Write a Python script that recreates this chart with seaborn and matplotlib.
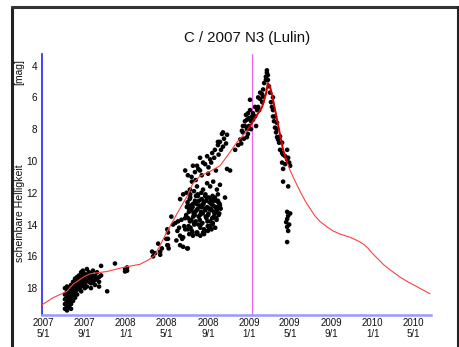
import matplotlib
matplotlib.use("Agg")
import matplotlib.pyplot as plt
from matplotlib.lines import Line2D
import seaborn as sns
import pandas as pd

# ---------------- data (days since 2007-05-01, apparent magnitude) ----------------
base_date = "2007-05-01"

# 2007 discovery season
a_days = [65,65,65,65,65, 71,71,71,71,71,71, 77,77,77,77,77, 83,83,83,83,83,83,
          89,89,89,89,89, 95,95,95,95,95, 101,101,101,101,101, 107,107,107,107,
          113,113,113,113,113, 118,118,118,118, 124,124,124,124, 130,130,130,130,
          136,136,136, 142,142,142,142, 148,148,148, 154,154,154, 160,160,
          166,166,166, 172,172, 190, 213, 243,243, 249,249]
a_mags = [18.0,18.4,18.7,19.0,19.3, 17.9,18.2,18.5,18.8,19.1,19.4, 18.1,18.3,18.6,18.9,19.2,
          17.8,18.0,18.4,18.7,19.0,19.3, 17.6,17.9,18.2,18.5,18.8, 17.4,17.7,18.0,18.3,18.6,
          17.3,17.6,17.9,18.1,18.4, 17.2,17.5,17.8,18.0, 17.0,17.3,17.6,17.9,18.2,
          16.9,17.2,17.5,17.8, 17.1,17.4,17.7,18.0, 16.8,17.2,17.5,17.9,
          17.0,17.3,17.6, 17.1,17.4,17.7,18.0, 16.9,17.3,17.6, 17.2,17.5,17.8, 17.0,17.4,
          17.3,17.6,17.9, 16.6,17.2, 18.2, 16.45, 16.8,16.95, 16.7,16.9]

# spring 2008
b_days = [323, 332, 341, 347, 352, 370, 370, 372, 326, 347, 365, 368, 406, 415, 427, 421]
b_mags = [15.7, 15.8, 15.2, 15.7, 15.5, 14.5, 15.3, 15.5, 16.0, 15.9, 14.9, 14.3, 15.3, 14.8, 15.5, 14.3]

# summer 2008 - dense core
c_days = [424,428,431,433,436,439,441,443,446,448,450,452,455,457,459,461,463,466,468,470,
          472,475,477,479,481,484,486,488,490,493,495,497,499,502,504,506,509,511,514,517,
          520,523,526,
          426,430,434,437,440,444,447,449,453,456,458,462,464,467,469,473,476,478,482,485,
          487,491,494,498,501,505,508,512,515,519,
          429,432,435,438,442,445,451,454,460,465,471,474,480,483,489,492,496,500,503,507,
          510,513,518,522,
          425,436,447,458,469,480,491,502,513,524,
          433,444,455,466,477,488,499,510,
          368,370,400,403,406,415,421,429,380,385,392,398,410,412,418,395]
c_mags = [13.4,12.6,14.1,13.0,12.3,13.7,14.4,12.9,13.3,14.0,12.5,13.8,13.1,14.5,12.2,13.5,
          12.8,14.2,13.2,12.4,13.9,12.7,14.3,13.0,12.1,13.6,12.9,14.1,13.3,12.6,13.8,12.4,
          13.1,14.0,12.8,13.5,12.3,13.2,13.7,12.9,13.4,12.7,13.0,
          12.9,13.6,12.4,14.2,13.1,12.7,13.9,13.4,12.2,14.6,13.0,12.5,13.7,14.0,12.9,13.3,
          12.6,14.4,13.5,12.3,13.8,13.0,14.1,12.7,13.6,12.5,13.3,12.9,13.1,12.6,
          14.3,13.2,13.8,12.8,14.5,13.5,13.2,12.7,14.0,13.4,12.8,14.5,13.1,12.5,13.4,14.2,
          13.0,12.6,13.9,13.2,12.9,13.6,12.5,13.3,
          12.0,12.1,11.9,12.1,12.0,12.2,12.3,12.2,12.5,12.8,
          14.6,14.7,14.5,14.7,14.6,14.4,14.3,14.2,
          15.3,14.9,13.8,14.2,14.7,15.4,13.6,15.5,13.5,14.0,13.9,14.4,13.7,14.9,14.1,15.0]

# summer 2008 - brighter upper band
d_days = [421, 429, 441, 450, 456, 465, 474, 486, 495, 501, 509, 518, 524, 533, 545,
          444, 465, 489, 504, 524, 435, 456, 474, 495, 515, 406, 415, 429, 486, 518, 539,
          533, 545, 518, 554,
          440, 452, 460, 470, 480, 490, 498, 507, 512, 520, 527, 536, 542, 530]
d_mags = [10.6, 10.9, 11.3, 10.7, 10.3, 9.8, 10.1, 9.7, 9.9, 9.5, 9.3, 9.0, 8.8, 9.1, 10.5,
          10.3, 10.6, 10.8, 11.3, 11.5, 11.8, 11.6, 11.8, 11.6, 11.8, 12.4, 12.1, 12.8, 11.4, 12.1, 12.3,
          8.2, 8.35, 8.8, 10.6,
          11.0, 11.2, 10.5, 10.9, 10.2, 10.4, 10.1, 9.8, 10.6, 9.6, 9.3, 8.6, 8.9, 8.3]

# autumn 2008
e_days = [569, 578, 584, 592, 598, 604, 607, 613, 613, 604, 592, 607, 619, 598, 589, 610, 616,
          595, 601, 610, 616, 587, 622, 604]
e_mags = [9.3, 9.0, 8.65, 8.2, 7.8, 7.4, 7.0, 6.8, 6.15, 8.0, 7.8, 8.3, 7.2, 7.5, 8.1, 7.8, 8.0,
          8.6, 7.1, 7.3, 7.5, 8.9, 7.0, 8.5]

# perihelion passage and outburst peak
f_days = [628, 634, 637, 643, 649, 652, 655, 660, 663, 663, 660, 649, 637, 628, 631, 622, 643, 652, 640,
          666, 666, 669, 672, 675, 678, 681, 681, 684, 687, 690, 693, 696, 699, 702, 708, 711, 717,
          723, 726, 729, 732, 717, 708, 711, 711, 726, 681, 687, 693, 693, 702, 708, 723]
f_mags = [7.2, 6.8, 6.6, 6.1, 5.8, 5.5, 5.1, 4.7, 4.3, 4.45, 4.9, 6.3, 6.0, 6.6, 7.8, 7.4, 5.7, 5.95, 6.8,
          4.6, 4.9, 5.3, 5.7, 6.3, 6.6, 6.8, 7.2, 7.5, 7.9, 8.2, 8.5, 8.65, 8.85, 9.3, 9.5, 9.6, 9.7,
          9.9, 9.8, 10.1, 10.3, 10.2, 10.1, 10.5, 11.3, 11.6, 6.0, 7.2, 7.6, 8.0, 8.45, 8.85, 9.3]

# faint outlier group, spring 2009
g_days = [723, 726, 723, 720, 729, 723, 726, 732, 723]
g_mags = [13.2, 13.45, 13.65, 13.85, 14.0, 14.15, 14.4, 13.3, 15.1]

# model light curve
model_days = [-3, 30, 71, 89, 120, 139, 190, 237, 287, 310, 330, 347, 367, 400, 427, 444,
              465, 495, 524, 545, 575, 590, 607, 631, 649, 660, 666, 672, 678, 693, 711,
              723, 732, 745, 761, 776, 791, 805, 820, 841, 859, 880, 909, 925, 939, 950,
              963, 975, 989, 1010, 1028, 1057, 1080, 1102, 1146]
model_mags = [19.05, 18.6, 18.2, 17.75, 17.3, 17.1, 16.95, 16.7, 16.5, 16.25, 15.95, 15.3,
              14.45, 13.2, 12.2, 11.4, 10.95, 10.65, 10.3, 9.7, 8.8, 8.45, 8.0, 7.2, 6.6,
              5.8, 5.1, 5.3, 5.8, 7.4, 9.3, 10.1, 10.6, 11.2, 11.9, 12.5, 13.0, 13.45, 13.8,
              14.15, 14.4, 14.6, 14.8, 14.95, 15.1, 15.25, 15.5, 15.8, 16.1, 16.55, 16.85,
              17.3, 17.6, 17.85, 18.35]

# fit near perihelion (heavier line)
fit_days = [607, 631, 649, 660, 666, 672, 678, 693, 711, 723]
fit_mags = [8.0, 7.2, 6.6, 5.8, 5.1, 5.3, 5.8, 7.4, 9.3, 10.1]

perihelion = "2009-01-10"
tick_dates = ["2007-05-01", "2007-09-01", "2008-01-01", "2008-05-01", "2008-09-01",
              "2009-01-01", "2009-05-01", "2009-09-01", "2010-01-01", "2010-05-01"]
tick_labels = ["2007\n5/1", "2007\n9/1", "2008\n1/1", "2008\n5/1", "2008\n9/1",
               "2009\n1/1", "2009\n5/1", "2009\n9/1", "2010\n1/1", "2010\n5/1"]
y_ticks = [4, 6, 8, 10, 12, 14, 16, 18]

# ---------------- build frames ----------------
b0 = pd.Timestamp(base_date)
obs_days = a_days + b_days + c_days + d_days + e_days + f_days + g_days
obs_mags = a_mags + b_mags + c_mags + d_mags + e_mags + f_mags + g_mags
obs = pd.DataFrame({"date": b0 + pd.to_timedelta(obs_days, unit="D"), "mag": obs_mags})
model = pd.DataFrame({"date": b0 + pd.to_timedelta(model_days, unit="D"), "mag": model_mags})
fit = pd.DataFrame({"date": b0 + pd.to_timedelta(fit_days, unit="D"), "mag": fit_mags})

sns.set_style("white")
plt.rcParams["font.family"] = ["Liberation Sans", "DejaVu Sans"]

fig = plt.figure(figsize=(4.59, 3.47), dpi=100)
ax = fig.add_axes([0.0915, 0.0931, 0.8475, 0.7513])

ax.axvline(pd.Timestamp(perihelion), color="#ee66ee", lw=0.9, zorder=1)
sns.lineplot(data=model, x="date", y="mag", ax=ax, color="#ff4040", lw=0.8,
             sort=False, estimator=None, zorder=3)
sns.scatterplot(data=obs, x="date", y="mag", ax=ax, color="black", s=11,
                edgecolor="none", linewidth=0, zorder=2)
sns.lineplot(data=fit, x="date", y="mag", ax=ax, color="#cc0000", lw=1.4,
             sort=False, estimator=None, zorder=4)

ax.set_xlim(b0 + pd.Timedelta(days=-3), b0 + pd.Timedelta(days=1149))
ax.set_ylim(19.67, 3.27)
ax.set_xticks([pd.Timestamp(t) for t in tick_dates])
ax.set_xticklabels(tick_labels, fontsize=7, color="#111111", linespacing=1.15)
ax.set_yticks(y_ticks)
ax.set_yticklabels([str(v) for v in y_ticks], fontsize=7.2, color="#111111")
ax.set_xlabel("")
ax.set_ylabel("")

ax.tick_params(axis="x", direction="in", length=3.5, width=1, color="#3333dd", pad=2.5)
ax.tick_params(axis="y", direction="in", length=4.5, width=1, color="#8888ff", pad=3.5)

for s in ["top", "right"]:
    ax.spines[s].set_visible(False)
ax.spines["left"].set_color("#2222ff")
ax.spines["left"].set_linewidth(1.2)
ax.spines["bottom"].set_color("#9999ff")
ax.spines["bottom"].set_linewidth(1.8)

fig.text(0.538, 0.890, "C / 2007 N3 (Lulin)", ha="center", va="center", fontsize=10.8,
         color="#111111")
fig.text(0.043, 0.386, "scheinbare Helligkeit", rotation=90, ha="center", va="center",
         fontsize=7.6, color="#111111")
fig.text(0.043, 0.791, "[mag]", rotation=90, ha="center", va="center",
         fontsize=7.4, color="#111111")

# outer frame
fig.add_artist(Line2D([0.026, 0.026], [0.0, 0.980], transform=fig.transFigure,
                      color="#222222", lw=2.2))
fig.add_artist(Line2D([0.026, 0.998], [0.980, 0.980], transform=fig.transFigure,
                      color="#333333", lw=2.2))
fig.add_artist(Line2D([0.997, 0.997], [0.0, 0.980], transform=fig.transFigure,
                      color="#222222", lw=2.2))

fig.savefig("out.png", dpi=100)
